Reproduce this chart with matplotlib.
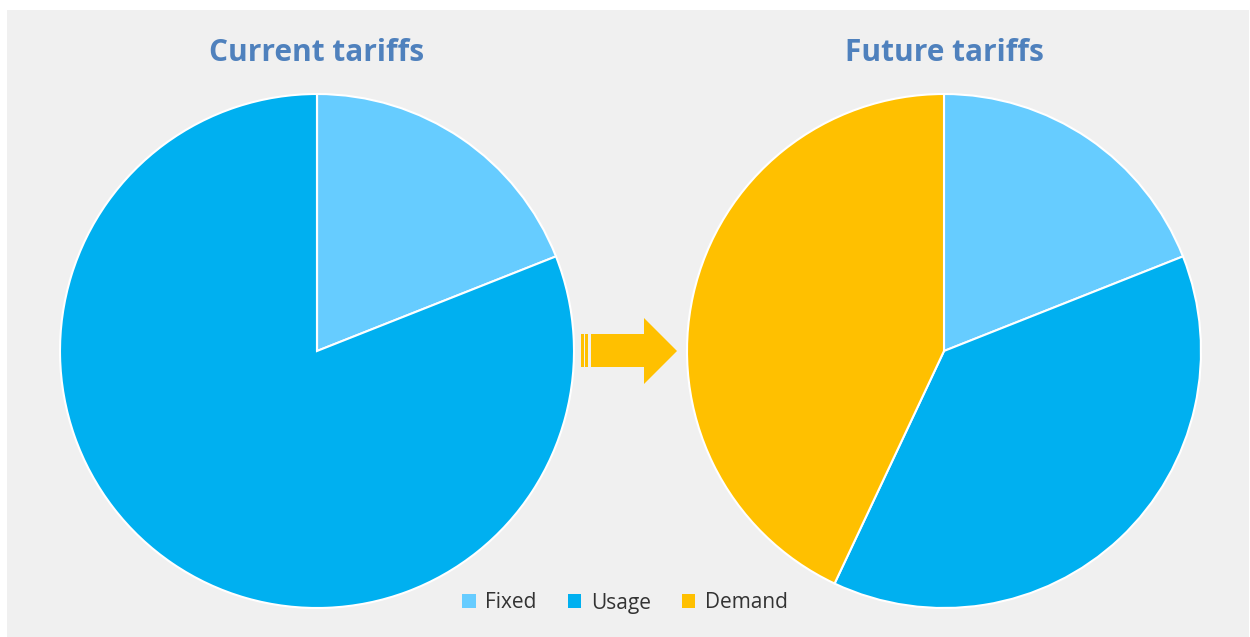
import matplotlib
matplotlib.use("Agg")
import matplotlib.pyplot as plt
from matplotlib.patches import Rectangle, Polygon, Patch

categories = ["Fixed", "Usage", "Demand"]
current_values = [19, 81, 0]
future_values = [19, 38, 43]
titles = ["Current tariffs", "Future tariffs"]
colors = ["#66CCFF", "#00B0F0", "#FFC000"]

W, H = 1250, 637
fig = plt.figure(figsize=(W / 100, H / 100), dpi=100)
fig.patch.set_facecolor("white")

# background panel and arrow drawn in pixel space
bg = fig.add_axes([0, 0, 1, 1])
bg.set_xlim(0, W)
bg.set_ylim(H, 0)
bg.axis("off")
bg.add_patch(Rectangle((7, 10), W - 8, H - 10, facecolor="#F0F0F0", edgecolor="none"))

arrow_color = "#FFC000"
bg.add_patch(Rectangle((581, 334), 2.5, 33, facecolor=arrow_color, edgecolor="none"))
bg.add_patch(Rectangle((585, 334), 2.5, 33, facecolor=arrow_color, edgecolor="none"))
bg.add_patch(Polygon([(591, 334), (644, 334), (644, 318), (677, 351),
                      (644, 384), (644, 367), (591, 367)],
                     closed=True, facecolor=arrow_color, edgecolor="none"))


def pie_axes(cx, cy, r):
    return fig.add_axes([(cx - r) / W, 1 - (cy + r) / H, 2 * r / W, 2 * r / H])


r = 257
for cx, vals, title in [(317, current_values, titles[0]), (944, future_values, titles[1])]:
    ax = pie_axes(cx, 351, r)
    ax.pie(vals, colors=colors, startangle=90, counterclock=False,
           wedgeprops=dict(edgecolor="white", linewidth=1.5), radius=1.0)
    ax.set_xlim(-1, 1)
    ax.set_ylim(-1, 1)
    ax.set_aspect("equal")
    bg.text(cx, 53, title, ha="center", va="center", fontsize=21.5,
            fontweight="bold", color="#4F81BD", family="Open Sans")

handles = [Patch(facecolor=c, edgecolor="none") for c in colors]
leg = fig.legend(handles, categories, loc="center", bbox_to_anchor=(625 / W, 1 - 603 / H),
                 ncol=3, frameon=False, handlelength=0.65, handleheight=0.65,
                 handletextpad=0.45, columnspacing=1.5,
                 prop={"family": "Open Sans", "size": 15})
for t in leg.get_texts():
    t.set_color("#333333")

fig.savefig("out.png", dpi=100, facecolor=fig.get_facecolor())
